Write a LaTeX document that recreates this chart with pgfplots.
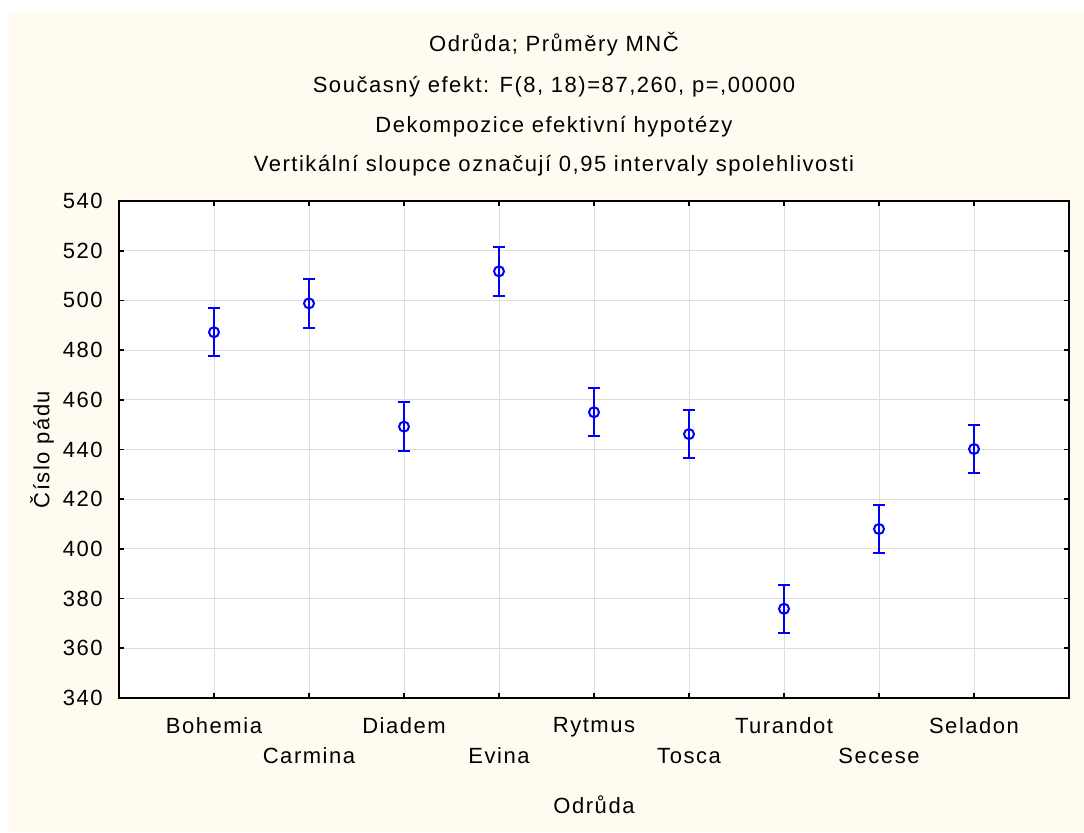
\documentclass[border=0pt]{standalone}
\usepackage{pgfplots}
\pgfplotsset{compat=1.18}
\usepackage{fontspec}
\setmainfont[LetterSpace=7]{Liberation Sans}
\definecolor{cream}{RGB}{255,251,240}
\definecolor{gridc}{RGB}{222,222,222}
\definecolor{ptblue}{RGB}{0,0,255}
\begin{document}
\fontsize{11}{13.2}\selectfont
\begin{tikzpicture}
\fill[white] (0,0) rectangle (542pt,416pt);
\fill[cream] (4pt,0) rectangle (542pt,410pt);
\begin{axis}[
  at={(59.5pt,67pt)}, anchor=south west,
  scale only axis, width=475pt, height=248.5pt,
  xmin=-1, xmax=9, ymin=340, ymax=540,
  xtick={0,1,2,3,4,5,6,7,8},
  xticklabels={Bohemia,{\vphantom{X}\\[2.3pt]Carmina},Diadem,{\vphantom{X}\\[2.3pt]Evina},Rytmus,{\vphantom{X}\\[2.3pt]Tosca},Turandot,{\vphantom{X}\\[2.3pt]Secese},Seladon},
  ytick={340,360,...,540},
  xticklabel style={align=center, font=\fontsize{11}{13.2}\selectfont, yshift=-5.8pt},
  yticklabel style={font=\fontsize{11}{13.2}\selectfont, xshift=-4.3pt},
  /pgf/number format/assume math mode=true,
  /pgf/number format/.cd, 1000 sep={}, /pgfplots/.cd,
  tick align=inside, major tick length=2.5pt,
  xtick pos=both, ytick pos=both,
  tick style={black, line width=0.8pt},
  grid=major, grid style={gridc, line width=0.5pt},
  axis line style={black, line width=1pt},
  axis background/.style={fill=white},
  clip=false,
]
\addplot+[only marks, mark=o, ptblue, mark size=2.5pt, mark options={ptblue, line width=1pt},
  error bars/.cd, y dir=both, y explicit,
  error bar style={ptblue, line width=1pt},
  error mark options={ptblue, line width=1pt, mark size=3pt, rotate=90}]
coordinates {
(0,487.2) +- (0,9.75)
(1,498.8) +- (0,9.75)
(2,449.2) +- (0,9.75)
(3,511.7) +- (0,9.75)
(4,455.0) +- (0,9.75)
(5,446.2) +- (0,9.75)
(6,375.9) +- (0,9.75)
(7,408.0) +- (0,9.75)
(8,440.2) +- (0,9.75)
};
\end{axis}
\node[anchor=base] at (277pt,390pt) {Odrůda; Průměry MNČ};
\node[anchor=base] at (277pt,369.5pt) {Současný efekt: F(8, 18)=87,260, p=,00000};
\node[anchor=base] at (277pt,349.5pt) {Dekompozice efektivní hypotézy};
\node[anchor=base] at (277pt,330pt) {Vertikální sloupce označují 0,95 intervaly spolehlivosti};
\node[anchor=base] at (297pt,9.5pt) {Odrůda};
\node[rotate=90] at (21pt,191.25pt) {Číslo pádu};
\end{tikzpicture}
\end{document}
